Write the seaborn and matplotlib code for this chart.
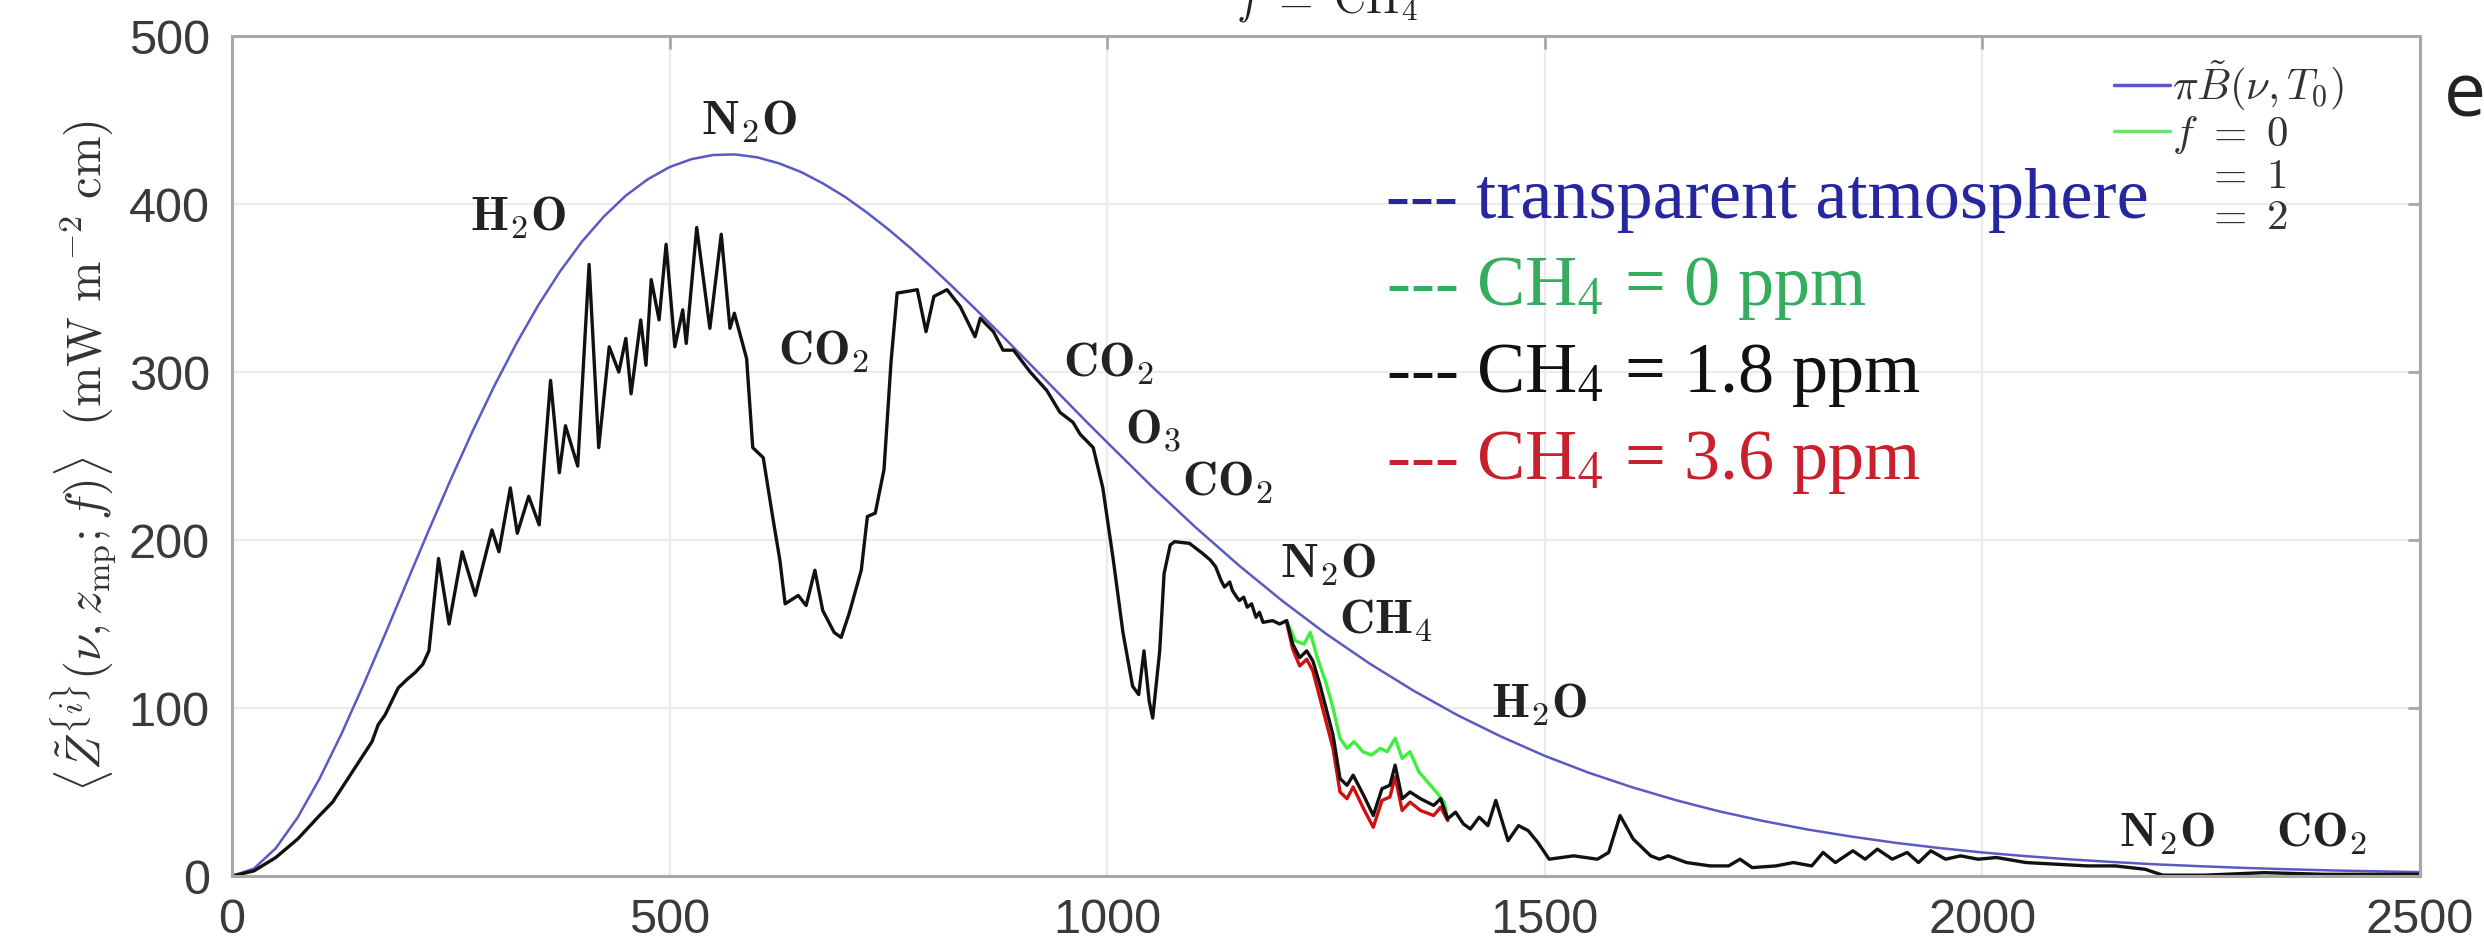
import numpy as np
import pandas as pd
import matplotlib
matplotlib.use("Agg")
import matplotlib.pyplot as plt
import seaborn as sns
from matplotlib.lines import Line2D

# ---------------- data ----------------
nu_planck = [0, 25, 50, 75, 100, 125, 150, 175, 200, 225, 250, 275, 300, 325, 350, 375,
             400, 425, 450, 475, 500, 525, 550, 575, 600, 625, 650, 675, 700, 725, 750,
             775, 800, 825, 850, 875, 900, 925, 950, 975, 1000, 1050, 1100, 1150, 1200,
             1250, 1300, 1350, 1400, 1450, 1500, 1550, 1600, 1650, 1700, 1750, 1800,
             1850, 1900, 1950, 2000, 2050, 2100, 2150, 2200, 2250, 2300, 2350, 2400,
             2450, 2500]
planck = [0, 4.4, 16.5, 34.8, 57.9, 84.5, 113.6, 144.0, 175.1, 206.0, 236.1, 264.9,
          292.0, 317.0, 339.8, 360.0, 377.7, 392.6, 405.0, 414.7, 422.0, 426.7, 429.2,
          429.5, 427.8, 424.2, 419.1, 412.3, 404.4, 395.1, 384.9, 373.9, 362.2, 349.9,
          337.2, 324.2, 311.0, 297.7, 284.4, 271.1, 258.1, 232.4, 208.0, 185.1, 163.8,
          144.2, 126.4, 110.3, 95.8, 83.0, 71.5, 61.5, 52.8, 45.1, 38.4, 32.7, 27.7,
          23.5, 19.8, 16.7, 14.0, 11.8, 9.9, 8.3, 6.9, 5.8, 4.8, 4.0, 3.3, 2.8, 2.3]

nu_obs = [0, 25, 50, 75, 100, 115, 125, 135, 150, 160, 167, 175, 190, 200, 209, 218, 225,
          236, 248, 263, 278, 297, 305, 318, 326, 339, 351, 364, 374, 381, 395, 408, 419,
          431, 442, 450, 456, 467, 473, 479, 488, 496, 506, 515, 519, 531, 546, 559, 569,
          574, 588, 595, 607, 618, 626, 632, 647, 656, 666, 675, 688, 696, 705, 719, 726,
          735, 745, 753, 760, 772, 783, 793, 802, 817, 832, 849, 855, 870, 881, 893, 912,
          931, 946, 961, 969, 984, 995, 1007, 1018, 1029, 1036, 1042, 1048, 1052, 1060,
          1065, 1072, 1077, 1094, 1109, 1118, 1124, 1130, 1134, 1140, 1143, 1148, 1151,
          1156, 1160, 1165, 1170, 1174, 1178, 1189, 1197, 1205, 1212, 1220, 1228, 1235,
          1243, 1251, 1258, 1266, 1274, 1281, 1293, 1304, 1314, 1323, 1329, 1337, 1346,
          1358, 1373, 1381, 1389, 1398, 1407, 1415, 1425, 1435, 1444, 1458, 1470, 1481,
          1492, 1505, 1533, 1560, 1573, 1586, 1601, 1621, 1631, 1641, 1662, 1689, 1710,
          1723, 1737, 1764, 1784, 1805, 1818, 1832, 1852, 1866, 1880, 1897, 1914, 1927,
          1941, 1958, 1975, 1995, 2016, 2050, 2084, 2120, 2152, 2186, 2206, 2254, 2322,
          2390, 2500]
z_obs = [0, 3, 11, 22, 36, 44, 52, 60, 72, 80, 90, 96, 112, 117, 121, 126, 134,
         189, 150, 193, 167, 206, 193, 231, 204, 226, 209, 295, 240, 268, 244, 364, 255,
         315, 300, 320, 287, 331, 304, 355, 331, 376, 315, 337, 317, 386, 326, 382, 326,
         335, 308, 255, 249, 213, 188, 162, 167, 161, 182, 158, 145, 142, 156, 182, 214,
         216, 242, 306, 347, 348, 349, 324, 345, 349, 339, 321, 332, 324, 313, 313, 300,
         289, 276, 270, 263, 255, 231, 188, 145, 113, 108, 134, 104, 94, 134,
         180, 197, 199, 198, 192, 188, 184, 176, 172, 175, 170, 166, 164,
         166, 160, 162, 154, 157, 151, 152, 150, 152, 138, 130, 134, 128,
         114, 98, 84, 58, 54, 60, 48, 36, 52, 54, 66, 46, 50,
         46, 42, 46, 34, 38, 31, 28, 35, 30, 45, 21, 30, 27,
         20, 10, 12, 10, 14, 36, 22, 12, 10, 12, 8, 6, 6,
         10, 5, 6, 8, 6, 14, 8, 15, 10, 16, 10, 14, 8,
         15, 10, 12, 10, 11, 8, 7, 6, 6, 4, 0.5, 0.5, 2,
         1, 1]

nu_f0 = [1205, 1215, 1225, 1232, 1240, 1250, 1258, 1266, 1274, 1282, 1292, 1302, 1312,
         1320, 1329, 1337, 1346, 1356, 1366, 1376, 1385, 1389]
z_f0 = [152, 140, 138, 145, 130, 115, 100, 82, 76, 80, 74, 72, 76,
        74, 82, 70, 74, 62, 56, 50, 44, 34]

nu_f2 = [1205, 1212, 1220, 1228, 1235, 1243, 1251, 1258, 1266, 1274, 1281, 1293, 1304,
         1314, 1323, 1329, 1337, 1346, 1358, 1373, 1381, 1389]
z_f2 = [151, 135, 125, 129, 122, 106, 90, 76, 50, 46, 53, 40, 29,
        45, 47, 59, 39, 44, 39, 36, 41, 33]

ann_labels = ["H_2O", "N_2O", "CO_2", "CO_2", "O_3", "CO_2", "N_2O", "CH_4", "H_2O",
              "N_2O", "CO_2"]
ann_nu = [327, 591, 676, 1002, 1052, 1138, 1252, 1318, 1494, 2211, 2388]
ann_val = [392, 449, 312, 305, 265, 234, 185, 152, 102, 25, 25]

key_texts = ["--- transparent atmosphere", "--- CH$_4$ = 0 ppm",
             "--- CH$_4$ = 1.8 ppm", "--- CH$_4$ = 3.6 ppm"]
key_colors = ["#26269e", "#35ad5f", "#111111", "#c8202c"]
key_val = [402, 350, 298, 246]

legend_labels = [r"$\pi\tilde{B}(\nu,T_0)$", r"$f\ =\ 0$", r"$\;\;\ =\ 1$", r"$\;\;\ =\ 2$"]

xticks = [0, 500, 1000, 1500, 2000, 2500]
yticks = [0, 100, 200, 300, 400, 500]

# ---------------- styling ----------------
sns.set_style("white")
plt.rcParams["font.family"] = ["Liberation Sans", "DejaVu Sans"]
plt.rcParams["mathtext.fontset"] = "cm"

BLUE = "#5a5ac4"
fig = plt.figure(figsize=(24.84, 9.47), dpi=100)
ax = fig.add_axes([232 / 2484, 71 / 947, 2188 / 2484, 840 / 947])

sns.lineplot(x=nu_planck, y=planck, ax=ax, color=BLUE, linewidth=1.8,
             estimator=None, sort=False, legend=False)
sns.lineplot(x=nu_f0, y=z_f0, ax=ax, color="#3ef03e", linewidth=2.4,
             estimator=None, sort=False, legend=False)
sns.lineplot(x=nu_f2, y=z_f2, ax=ax, color="#d01010", linewidth=2.4,
             estimator=None, sort=False, legend=False)
sns.lineplot(x=nu_obs, y=z_obs, ax=ax, color="#111111", linewidth=2.4,
             estimator=None, sort=False, legend=False)

ax.set_xlim(0, 2500)
ax.set_ylim(0, 500)
ax.set_xticks(xticks)
ax.set_yticks(yticks)
ax.grid(True, color="#ebebeb", linewidth=1.6)
ax.set_axisbelow(True)
for s in ax.spines.values():
    s.set_color("#a8a8a8")
    s.set_linewidth(2.2)
ax.tick_params(direction="in", length=9, width=1.8, color="#a0a0a0",
               top=True, right=True, labelsize=35, labelcolor="#3a3a3a", pad=16)

# molecule annotations
for lab, xv, yv in zip(ann_labels, ann_nu, ann_val):
    ax.text(xv, yv, r"$\mathbf{" + lab + "}$", ha="center", va="center",
            fontsize=35, color="#222222", math_fontfamily="cm")

# coloured key text
for t, c, yv in zip(key_texts, key_colors, key_val):
    ax.text(1318, yv, t, ha="left", va="center", fontsize=52, color=c,
            family="Liberation Serif", math_fontfamily="stix")

# small legend
handles = [Line2D([], [], color=BLUE, lw=2.5),
           Line2D([], [], color="#70e070", lw=2.5),
           Line2D([], [], color="k", lw=2.5, alpha=0),
           Line2D([], [], color="r", lw=2.5, alpha=0)]
leg = ax.legend(handles, legend_labels, loc="upper left", bbox_to_anchor=(0.858, 0.978),
                frameon=False, fontsize=31, handlelength=1.3, handletextpad=0.05,
                labelspacing=0.02, borderpad=0.1, borderaxespad=0.0)
for txt in leg.get_texts():
    txt.set_color("#333333")

ax.set_ylabel(r"$\langle\tilde{Z}^{\{i\}}(\nu,z_{\mathrm{mp}};f)\rangle\ \ (\mathrm{mW\ m^{-2}\ cm})$",
              fontsize=35, color="#333333", labelpad=8)
ax.set_xlabel(r"$\mathrm{wavenumber}\ \nu\ (\mathrm{cm^{-1}})$", fontsize=32,
              color="#333333", labelpad=6)

# partially visible title and slide text
fig.text(1327 / 2484, 1 - 12 / 947, r"$f\ =\ \mathrm{CH_4}$", ha="center",
         va="baseline", fontsize=32, color="#222222", math_fontfamily="cm")
fig.text(2444 / 2484, 1 - 97 / 947, "e", ha="left", va="center", fontsize=54,
         color="#222222", family="Open Sans")

fig.savefig("out.png", dpi=100, facecolor="white")
